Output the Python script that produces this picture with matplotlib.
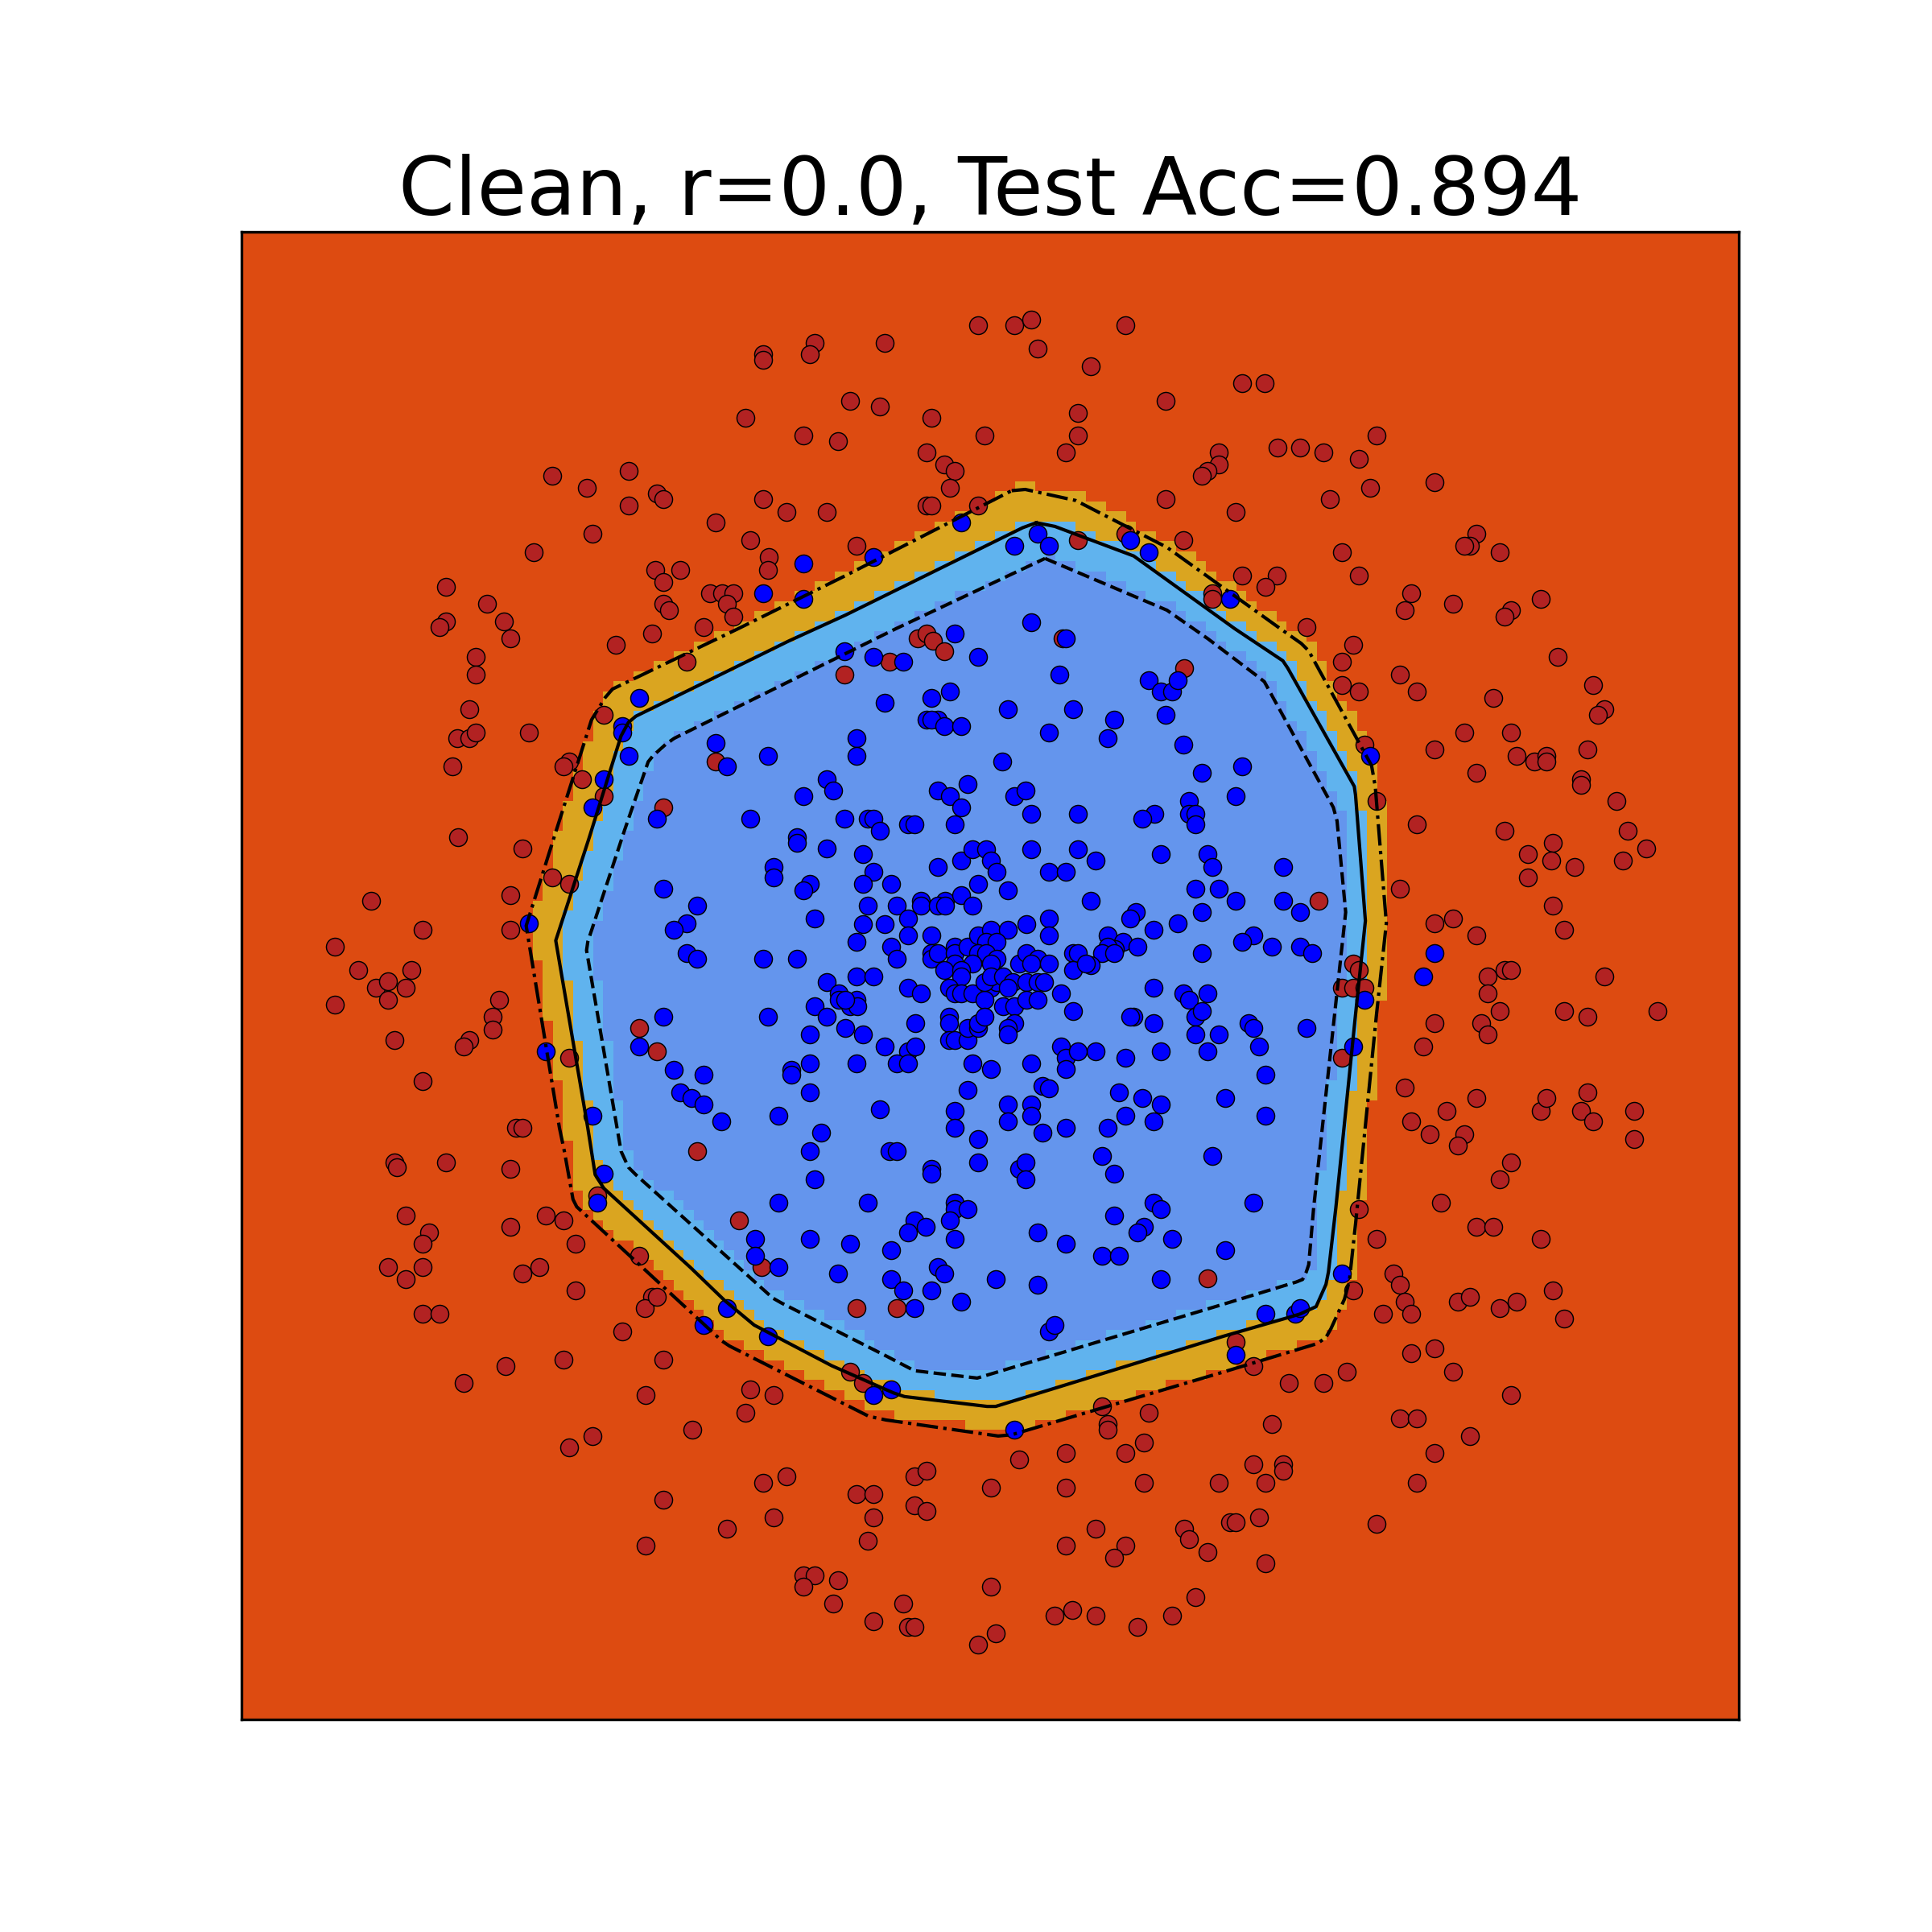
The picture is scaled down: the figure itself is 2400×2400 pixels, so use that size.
"""Decision regions of a clean classifier with its margin contours."""

import matplotlib
matplotlib.use("Agg")
import matplotlib.pyplot as plt
from matplotlib.colors import ListedColormap
from matplotlib.path import Path
import numpy as np

TITLE = "Clean, r=0.0, Test Acc=0.894"
REGION_COLORS = ["#DD4B11", "#DAA520", "#60B3EE", "#6495ED"]

X_RANGE = (196, 1411)
Y_RANGE = (1395, 188)

solid_x = [841, 856, 920, 1002, 1041, 1045, 1099, 1100, 1108, 1100, 1084, 1078, 1076, 1068, 1055, 1045, 993, 808, 801, 734, 725, 675, 612, 588, 560, 490, 483, 480, 477, 451, 478, 504, 510, 516, 640, 686, 830, 841]
solid_y = [424, 427, 451, 510, 536, 542, 638, 645, 747, 823, 980, 1032, 1042, 1060, 1066, 1069, 1084, 1141, 1141, 1133, 1130, 1108, 1075, 1055, 1028, 964, 953, 934, 915, 763, 680, 597, 586, 581, 520, 499, 428, 424]

dashed_x = [848, 947, 980, 1021, 1026, 1082, 1085, 1092, 1083, 1066, 1062, 1060, 1057, 1052, 993, 793, 742, 719, 634, 627, 516, 510, 504, 476, 477, 507, 526, 530, 540, 547, 640, 727, 848]
dashed_y = [453, 495, 518, 549, 553, 655, 666, 740, 823, 980, 1026, 1032, 1038, 1040, 1058, 1118, 1112, 1100, 1057, 1053, 953, 947, 934, 771, 764, 673, 618, 613, 604, 599, 553, 510, 453]

dashdot_x = [821, 832, 873, 947, 1039, 1056, 1062, 1113, 1116, 1125, 1117, 1100, 1095, 1091, 1080, 1076, 1069, 993, 821, 810, 719, 705, 592, 586, 468, 465, 458, 454, 427, 451, 480, 491, 497, 599, 686, 821]
dashdot_y = [398, 397, 406, 444, 510, 522, 528, 621, 638, 749, 823, 993, 1039, 1054, 1078, 1085, 1090, 1113, 1164, 1165, 1152, 1149, 1092, 1088, 979, 973, 934, 915, 751, 675, 584, 566, 559, 510, 467, 398]

red_points = [
    (619, 287), (619, 292), (661, 278), (657, 287), (718, 278), (794, 264), (823, 264), (837, 259), (842, 283), (913, 264), (885, 297),
    (1008, 311), (1026, 311), (946, 325), (875, 335), (690, 325), (714, 330), (756, 339), (605, 339), (652, 353), (680, 358), (799, 353),
    (875, 353), (865, 367), (752, 367), (766, 377), (775, 382), (771, 396), (989, 367), (989, 377), (980, 382), (975, 386), (1037, 363),
    (1055, 363), (1074, 367), (1117, 353), (1103, 372), (1112, 396), (1079, 405), (1164, 391), (1003, 415), (946, 405),
    (448, 386), (476, 396), (510, 382), (533, 400), (538, 405), (510, 410), (481, 433), (433, 448), (581, 424), (619, 405), (638, 415),
    (671, 415), (752, 410), (756, 410), (794, 410), (875, 438), (913, 433), (960, 438), (609, 438), (624, 452), (623, 462), (695, 443),
    (532, 462), (552, 462), (538, 472), (576, 481), (586, 481), (595, 481), (590, 490), (595, 500), (538, 490), (543, 495), (529, 514),
    (571, 509), (557, 537), (500, 523), (362, 476), (395, 490), (362, 504), (357, 509), (409, 504), (414, 518), (386, 533), (386, 547),
    (381, 575), (371, 599), (381, 599), (386, 594), (429, 594), (367, 622), (462, 618), (457, 622), (472, 632), (490, 580), (490, 646),
    (538, 655), (581, 618), (372, 679), (424, 688), (448, 712), (462, 717), (414, 726), (301, 731), (343, 754), (414, 754), (272, 768),
    (291, 787), (334, 787), (305, 801), (315, 796), (329, 801), (315, 811), (272, 815), (405, 811), (400, 825), (400, 835), (381, 844),
    (376, 849), (320, 844), (519, 834), (533, 853), (462, 858), (343, 877), (419, 915), (424, 915), (320, 943), (322, 947), (362, 943),
    (414, 948), (566, 934), (485, 970), (329, 986), (348, 1000), (343, 1009), (443, 986), (457, 990), (414, 995), (467, 1009), (519, 1019),
    (315, 1028), (343, 1028), (329, 1038), (424, 1033), (438, 1028), (467, 1047), (529, 1052), (523, 1061), (533, 1052), (343, 1066),
    (357, 1066), (505, 1080), (600, 990), (618, 1028), (695, 1061), (728, 1061), (538, 1103), (457, 1103), (410, 1108), (376, 1122),
    (524, 1132), (609, 1127), (628, 1132), (605, 1146), (690, 1113), (700, 1122), (562, 1160), (462, 1174), (481, 1165), (538, 1217),
    (619, 1203), (638, 1198), (628, 1231), (524, 1254), (590, 1240),
    (695, 1212), (709, 1212), (709, 1231), (742, 1198), (752, 1193), (742, 1221), (752, 1226), (704, 1250), (804, 1207), (827, 1184),
    (865, 1179), (894, 1141), (899, 1155), (899, 1160), (932, 1146), (928, 1170), (913, 1179), (928, 1203), (865, 1207), (889, 1240),
    (865, 1254), (913, 1254), (904, 1264), (961, 1240), (965, 1249), (980, 1259), (989, 1203), (998, 1235), (1003, 1235), (1022, 1231),
    (1027, 1203), (1017, 1188), (1041, 1188), (1041, 1193), (1032, 1155), (1027, 1268), (1117, 1236), (1150, 1203), (1164, 1179),
    (1193, 1165), (1136, 1151), (1150, 1151), (1226, 1132), (1179, 1113), (1145, 1098), (1164, 1094), (1093, 1113), (1074, 1122),
    (1046, 1122), (1017, 1108), (1003, 1089), (652, 1278), (661, 1278), (652, 1287), (680, 1282), (676, 1301), (709, 1315), (733, 1301),
    (737, 1320), (742, 1320), (794, 1334), (808, 1325), (804, 1287), (856, 1311), (870, 1306), (889, 1311), (923, 1320), (951, 1311), (970, 1296),
    (1060, 509), (1098, 523), (1089, 537), (1089, 556), (1103, 561), (1136, 547), (1150, 561), (1107, 604), (1117, 650), (1150, 669),
    (1164, 608), (1188, 594), (1212, 566), (1226, 594), (1231, 613), (1245, 618), (1255, 613), (1255, 618), (1198, 627), (1288, 608),
    (1283, 632), (1283, 637), (1312, 650), (1293, 556), (1302, 575), (1297, 580), (1264, 533), (1250, 486), (1226, 495), (1221, 500),
    (1217, 448), (1198, 433), (1193, 443), (1188, 443), (1179, 490), (1145, 481), (1140, 495), (1103, 467), (1089, 448), (1036, 467),
    (1008, 467), (1027, 476), (984, 481), (984, 486), (961, 542), (1221, 674), (1240, 693), (1260, 684), (1259, 698), (1240, 712),
    (1278, 703), (1317, 698), (1321, 674), (1336, 688), (1136, 721), (1260, 735), (1269, 754), (1198, 759), (1179, 745), (1164, 749),
    (1070, 731), (1221, 787), (1226, 787), (1207, 792), (1207, 806), (1302, 792), (1269, 820), (1288, 825), (1345, 820), (1217, 820),
    (1202, 830), (1207, 839), (1164, 830), (1155, 849), (1098, 782), (1103, 787), (1089, 801), (1098, 801), (1107, 801), (1089, 858),
    (1140, 882), (1198, 891), (1145, 910), (1160, 920), (1174, 901), (1188, 920), (1183, 929), (1250, 901), (1255, 891), (1288, 886),
    (1283, 901), (1293, 910), (1326, 901), (1326, 924), (1226, 943), (1217, 957), (1169, 976), (1103, 981), (1117, 1005), (1198, 995),
    (1212, 995), (1250, 1005), (1131, 1033), (1136, 1042), (1140, 1056), (1098, 1047), (1122, 1066), (1145, 1066), (1183, 1056),
    (1193, 1052), (1217, 1061), (1231, 1056), (1260, 1047), (1269, 1070),
    (862, 518), (745, 518), (752, 514), (757, 520), (766, 528), (722, 537), (685, 547), (980, 1037),
]

blue_points = [
    (780, 424), (842, 433), (823, 443), (851, 443), (917, 438), (932, 448), (652, 457), (709, 452), (619, 481), (652, 486), (998, 486),
    (519, 566), (505, 589), (505, 594), (510, 613), (490, 632), (481, 655), (533, 664), (429, 749), (443, 853), (481, 905), (490, 952),
    (485, 976), (571, 1075), (590, 1061), (623, 1084), (709, 1132), (723, 1127), (823, 1160), (1003, 1099), (1027, 1066), (1051, 1066),
    (1055, 1061), (1089, 1033), (1098, 849), (1107, 811), (1164, 773), (1155, 792), (1112, 613), (519, 849),
    (837, 505), (865, 518), (775, 514), (685, 528), (709, 533), (733, 537), (794, 533), (860, 547), (932, 552), (942, 561), (951, 561),
    (956, 552), (771, 561), (756, 566), (718, 570), (818, 575), (871, 575), (946, 580), (752, 584), (761, 584), (756, 584), (766, 589),
    (780, 589), (851, 594), (904, 584), (899, 599), (695, 599), (581, 603), (623, 613), (590, 622), (695, 613), (960, 604), (813, 618),
    (975, 627), (1008, 622), (671, 632), (676, 641), (761, 641), (785, 636), (771, 646), (823, 646), (832, 641), (652, 646), (1003, 646),
    (965, 650), (965, 660), (970, 660), (780, 655), (837, 660), (875, 660), (937, 660), (927, 664), (970, 669), (609, 664), (685, 664),
    (704, 664), (709, 664), (714, 674), (737, 669), (742, 669), (775, 669), (647, 679), (647, 684), (671, 688),
    (889, 698), (942, 693), (980, 693), (984, 703), (628, 703), (628, 712), (1041, 703), (657, 717), (652, 722), (970, 721), (989, 721),
    (538, 721), (1003, 731), (1041, 731), (566, 735), (922, 740), (917, 745), (661, 745), (1055, 740), (557, 749), (547, 754), (936, 754),
    (956, 749), (975, 740), (899, 759), (1017, 759), (1008, 764), (911, 764), (905, 770), (899, 768), (1032, 768), (1055, 768), (1065, 773),
    (557, 773), (566, 778), (619, 778), (647, 778), (894, 773), (904, 773), (923, 768), (975, 773), (885, 783), (671, 797), (936, 801),
    (960, 806), (965, 811), (980, 806), (681, 806), (681, 811), (661, 816), (920, 825), (671, 825), (623, 825), (538, 825), (1060, 834),
    (1013, 830), (1017, 834), (917, 825), (936, 830), (970, 825), (975, 820), (970, 839), (989, 839), (657, 839), (889, 853), (942, 853),
    (980, 853), (1022, 849), (657, 863), (913, 858), (547, 868), (571, 872), (642, 868), (642, 872), (1027, 872), (908, 886), (927, 891),
    (657, 886), (552, 886), (561, 891), (571, 896), (632, 905),
    (700, 693), (709, 707), (700, 717), (723, 717), (761, 703), (780, 698), (789, 689), (800, 689), (804, 698), (809, 707), (794, 717),
    (818, 722), (837, 689), (851, 707), (865, 707), (875, 689), (747, 731), (767, 731), (747, 735), (761, 735), (767, 735), (780, 726),
    (789, 735), (704, 735), (728, 735), (737, 745), (700, 750), (718, 750), (695, 764), (737, 759), (723, 768), (728, 778), (885, 731),
    (756, 759), (756, 773), (756, 778), (761, 773), (775, 768), (775, 773), (785, 768), (794, 759), (804, 754), (818, 754), (833, 750),
    (851, 745), (851, 759), (800, 764), (809, 764), (794, 773), (800, 773), (809, 778), (804, 782), (789, 782), (775, 782), (766, 787),
    (780, 787), (827, 782), (833, 773), (842, 778), (837, 782), (851, 782), (871, 773), (875, 773), (871, 787), (881, 782),
    (695, 792), (709, 792), (737, 801), (747, 806), (695, 811), (690, 816), (696, 816), (686, 811), (686, 834), (700, 839), (743, 830),
    (718, 849), (737, 853), (743, 849), (728, 863), (737, 863), (695, 863),
    (780, 792), (770, 801), (775, 806), (780, 806), (789, 806), (804, 801), (799, 811), (809, 797), (799, 797), (804, 792), (814, 792),
    (822, 797), (833, 797), (842, 797), (847, 797), (818, 801), (814, 816), (823, 816), (833, 811), (842, 811), (861, 806), (871, 820),
    (770, 825), (770, 830), (770, 844), (775, 844), (785, 844), (785, 834), (794, 834), (794, 830), (799, 825), (823, 830), (818, 834),
    (818, 839), (861, 849), (865, 858), (875, 853), (865, 867), (789, 863), (804, 867), (837, 863), (785, 884), (846, 881), (851, 883),
    # lower half
    (714, 900), (775, 901), (818, 896), (837, 896), (942, 896), (994, 891), (1027, 905), (585, 910), (775, 915), (818, 910), (837, 905),
    (913, 905), (936, 910), (666, 919), (846, 919), (865, 915), (899, 915), (794, 924), (722, 934), (728, 934), (657, 934), (794, 943),
    (894, 938), (984, 938), (904, 952), (756, 948), (756, 952), (827, 948), (832, 943), (661, 957), (832, 957), (632, 976), (704, 976),
    (775, 976), (775, 981), (785, 981), (1017, 976), (936, 976), (942, 981), (904, 986), (742, 990), (771, 990), (751, 995), (737, 1000),
    (928, 995), (923, 1000), (842, 1000), (613, 1005), (613, 1019), (657, 1005), (690, 1009), (723, 1014), (775, 1005), (865, 1009),
    (894, 1019), (908, 1019), (951, 1005), (994, 1014), (632, 1028), (761, 1028), (766, 1033), (680, 1033), (723, 1038), (808, 1038),
    (942, 1038), (733, 1047), (756, 1047), (842, 1042), (780, 1056), (742, 1061), (851, 1080), (856, 1075),
]


def region_grid(xx, yy):
    """Label each mesh node by the contours it falls inside."""
    nodes = np.column_stack([xx.ravel(), yy.ravel()])
    labels = np.zeros(len(nodes), dtype=int)
    labels[Path(np.column_stack([dashdot_x, dashdot_y])).contains_points(nodes)] = 1
    labels[Path(np.column_stack([solid_x, solid_y])).contains_points(nodes)] = 2
    labels[Path(np.column_stack([dashed_x, dashed_y])).contains_points(nodes)] = 3
    return labels.reshape(xx.shape)


fig, ax = plt.subplots(figsize=(8, 8), dpi=300)

# flat shading colours each cell from its lower-left node
xx, yy = np.meshgrid(np.linspace(X_RANGE[0], X_RANGE[1], 150), np.linspace(Y_RANGE[0], Y_RANGE[1], 150))
ax.pcolormesh(xx, yy, region_grid(xx, yy)[:-1, :-1], shading="flat", cmap=ListedColormap(REGION_COLORS), vmin=0, vmax=3)

red = np.array(red_points)
blue = np.array(blue_points)
ax.scatter(red[:, 0], red[:, 1], c="firebrick", s=28, edgecolors="k", linewidths=0.35)
ax.scatter(blue[:, 0], blue[:, 1], c="blue", s=28, edgecolors="k", linewidths=0.35)

ax.plot(solid_x, solid_y, color="k", linewidth=1, linestyle="-")
ax.plot(dashed_x, dashed_y, color="k", linewidth=1, linestyle="--")
ax.plot(dashdot_x, dashdot_y, color="k", linewidth=1, linestyle="-.")

ax.set_xlim(*X_RANGE)
ax.set_ylim(*Y_RANGE)
ax.set_xticks([])
ax.set_yticks([])
ax.set_title(TITLE, fontsize=24, pad=4.9)

fig.savefig("out.png")
plt.close(fig)
